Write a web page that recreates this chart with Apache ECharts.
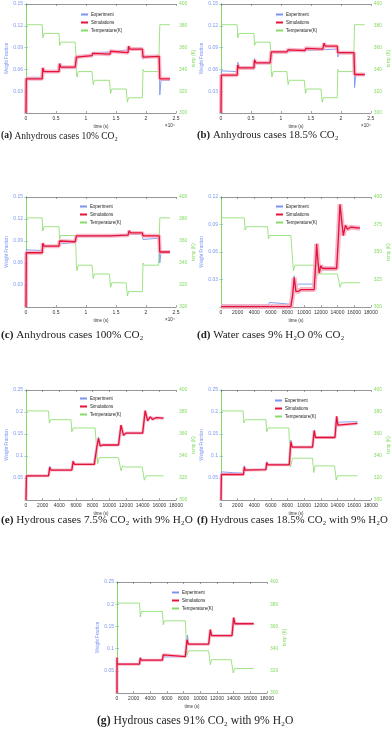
<!DOCTYPE html>
<html>
<head>
<meta charset="utf-8">
<script src="https://cdn.jsdelivr.net/npm/echarts@6/dist/echarts.min.js"></script>
<style>html,body{margin:0;padding:0;background:#fff}#chart{width:392px;height:731px}</style>
</head>
<body>
<div id="chart"></div>
<script>
// time in 1e4 s for the anhydrous panels, in s for the others
const anhydrousTemp = [[0,381],[0.27,381],[0.28,369],[0.3,373],[0.55,373],[0.56,362],[0.58,365],[0.82,365],[0.83,355],[0.84,338],[0.85,333],[0.87,338],[1.1,338],[1.12,326],[1.14,330],[1.39,330],[1.41,318],[1.43,322],[1.67,322],[1.69,310],[1.71,314],[1.94,314],[1.95,340],[1.97,338],[2.21,338],[2.23,381],[2.4,381]]

const simA = [[0,0],[0.005,0.047],[0.27,0.047],[0.28,0.062],[0.3,0.057],[0.55,0.057],[0.56,0.068],[0.58,0.063],[0.82,0.063],[0.84,0.077],[0.86,0.079],[1.1,0.079],[1.11,0.082],[1.13,0.081],[1.4,0.081],[1.41,0.085],[1.43,0.083],[1.7,0.083],[1.71,0.092],[1.73,0.088],[1.94,0.088],[1.95,0.077],[1.97,0.078],[2.22,0.078],[2.23,0.047],[2.4,0.047]]
const expA = [[0,0],[0.005,0.049],[0.27,0.049],[0.28,0.061],[0.3,0.057],[0.55,0.057],[0.56,0.067],[0.58,0.062],[0.82,0.062],[0.85,0.075],[0.9,0.078],[1.1,0.079],[1.12,0.083],[1.4,0.084],[1.42,0.086],[1.7,0.087],[1.72,0.088],[1.94,0.088],[1.95,0.074],[1.97,0.078],[2.22,0.078],[2.23,0.025],[2.25,0.045],[2.4,0.045]]

const simB = [[0,0],[0.005,0.052],[0.27,0.052],[0.28,0.066],[0.3,0.062],[0.55,0.062],[0.56,0.073],[0.58,0.069],[0.82,0.069],[0.84,0.084],[1.1,0.084],[1.12,0.087],[1.14,0.086],[1.4,0.086],[1.42,0.089],[1.44,0.088],[1.7,0.088],[1.72,0.096],[1.74,0.092],[1.94,0.092],[1.95,0.083],[2.22,0.083],[2.23,0.053],[2.4,0.053]]
const expB = [[0,0],[0.005,0.058],[0.27,0.057],[0.28,0.07],[0.3,0.063],[0.55,0.063],[0.56,0.075],[0.58,0.069],[0.82,0.069],[0.84,0.083],[1.1,0.084],[1.12,0.086],[1.4,0.086],[1.42,0.087],[1.7,0.087],[1.72,0.088],[1.94,0.088],[1.95,0.077],[1.97,0.082],[2.22,0.082],[2.23,0.035],[2.25,0.052],[2.4,0.052]]

const simC = [[0,0],[0.005,0.074],[0.27,0.074],[0.28,0.087],[0.3,0.083],[0.55,0.083],[0.56,0.09],[0.58,0.089],[0.82,0.089],[0.84,0.097],[1.4,0.097],[1.42,0.099],[1.7,0.098],[1.72,0.104],[1.74,0.101],[1.94,0.101],[1.95,0.097],[2.22,0.097],[2.23,0.075],[2.4,0.075]]
const expC = [[0,0],[0.005,0.078],[0.27,0.077],[0.28,0.086],[0.3,0.083],[0.55,0.083],[0.56,0.086],[0.58,0.088],[0.82,0.088],[0.84,0.096],[1.4,0.097],[1.42,0.099],[1.7,0.099],[1.72,0.1],[1.94,0.099],[1.95,0.092],[1.97,0.094],[2.22,0.094],[2.23,0.06],[2.25,0.074],[2.4,0.074]]

const tempD = [[0,381],[2800,381],[2900,370],[3050,373],[5600,373],[5700,362],[5850,365],[8400,365],[8700,333],[8900,338],[11200,338],[11400,326],[11550,330],[14000,330],[14300,318],[14500,322],[16700,322]]
const simD = [[0,0.0005],[8400,0.0005],[8600,0.012],[8800,0.032],[9000,0.017],[9300,0.017],[9600,0.019],[11200,0.019],[11400,0.05],[11500,0.069],[11650,0.05],[11800,0.037],[12000,0.045],[12200,0.042],[13900,0.042],[14100,0.075],[14300,0.112],[14500,0.095],[14700,0.078],[14950,0.089],[15200,0.085],[15600,0.087],[16700,0.086]]
const expD = [[0,0.003],[500,0.002],[2900,0.002],[3000,0.003],[3100,0.002],[5700,0.002],[5800,0.005],[6000,0.003],[8400,0.003],[8600,0.015],[8800,0.034],[9000,0.022],[9300,0.025],[11200,0.025],[11300,0.04],[11450,0.062],[11650,0.045],[11850,0.039],[12000,0.043],[13900,0.043],[14100,0.07],[14300,0.1],[14500,0.09],[14700,0.08],[14950,0.088],[16700,0.087]]

const tempE = [[0,381],[2700,381],[2800,370],[2950,373],[5400,373],[5500,362],[5650,365.5],[8300,365.5],[8600,333],[8800,338.5],[11100,338.5],[11400,326.5],[11600,331],[11900,330],[13950,330],[14200,318],[14400,322],[16500,322]]
const simE = [[0,0],[50,0.055],[2700,0.055],[2850,0.074],[3000,0.068],[5500,0.068],[5650,0.088],[5800,0.081],[8200,0.081],[8500,0.12],[8700,0.14],[8900,0.123],[9200,0.125],[11100,0.125],[11400,0.17],[11700,0.147],[12000,0.152],[14000,0.152],[14300,0.203],[14600,0.18],[14900,0.189],[15200,0.183],[15600,0.187],[16500,0.186]]
const expE = [[0,0],[50,0.053],[2700,0.055],[2850,0.077],[3000,0.068],[5500,0.069],[5650,0.089],[5800,0.081],[8100,0.081],[8400,0.115],[8700,0.143],[8900,0.124],[11100,0.125],[11400,0.168],[11700,0.149],[12000,0.153],[14000,0.153],[14300,0.2],[14600,0.182],[14900,0.188],[16500,0.187]]

const tempF = [[0,381],[2650,381],[2750,370],[2900,373],[5400,373],[5500,362],[5650,365.5],[8150,365.5],[8350,330],[8600,338],[11000,338],[11150,325],[11300,331],[13650,331],[13850,318],[14000,322],[16400,322]]
const simF = [[0,0],[50,0.058],[2700,0.058],[2800,0.075],[2900,0.068],[5400,0.069],[5500,0.085],[5600,0.08],[8200,0.08],[8400,0.132],[8550,0.12],[11000,0.12],[11200,0.158],[11350,0.142],[13700,0.142],[13900,0.19],[14050,0.17],[14200,0.174],[16400,0.174]]
const expF = [[0,0],[30,0.064],[1500,0.062],[2700,0.061],[2800,0.078],[2900,0.069],[5400,0.07],[5500,0.087],[5600,0.081],[8200,0.081],[8400,0.136],[8550,0.121],[11000,0.121],[11200,0.156],[11350,0.143],[13700,0.143],[13900,0.188],[14050,0.172],[14200,0.177],[16400,0.178]]

const tempG = [[0,381],[2700,381],[2800,368.5],[2950,373.5],[5450,373.5],[5550,361.5],[5700,365],[8200,365],[8400,334],[8600,338],[11000,338],[11200,325.5],[11350,330],[13700,330],[13950,318],[14100,322],[16400,322]]
const simG = [[0,0],[0,0.08],[30,0.065],[2700,0.065],[2800,0.079],[2900,0.074],[5450,0.074],[5550,0.086],[5700,0.082],[8200,0.082],[8400,0.12],[8550,0.11],[11000,0.11],[11200,0.143],[11350,0.129],[13800,0.129],[14000,0.17],[14150,0.156],[16400,0.156]]
const expG = [[0,0],[30,0.066],[2700,0.066],[2800,0.08],[2900,0.074],[5450,0.075],[5550,0.087],[5700,0.081],[8200,0.082],[8450,0.13],[8600,0.11],[11000,0.11],[11200,0.14],[11350,0.13],[13800,0.13],[14000,0.168],[14150,0.157],[16400,0.157]]

const captions = [
    '{b|(a)} Anhydrous cases 10% CO₂',
    '{b|(b)} Anhydrous cases 18.5% CO₂',
    '{b|(c)} Anhydrous cases 100% CO₂',
    '{b|(d)} Water cases 9% H₂O 0% CO₂',
    '{b|(e)} Hydrous cases 7.5% CO₂ with 9% H₂O',
    '{b|(f)} Hydrous cases 18.5% CO₂ with 9% H₂O',
    '{b|(g)} Hydrous cases 91% CO₂ with 9% H₂O'
]

const BLUE = '#7b95f2'
const RED = '#e5123a'
const PINK = '#f6a9bd'
const GREEN = '#86dc66'
const FONT = 'Liberation Sans'

const legendItems = [
    { name: 'Experiment', itemStyle: { color: BLUE, borderWidth: 0 } },
    { name: 'Simulations', itemStyle: { color: RED, borderWidth: 0 } },
    { name: 'Temperature(K)', itemStyle: { color: GREEN, borderWidth: 0 } }
]

const panels = [
    { box: [26, 4, 150, 109], xMax: 2.5, xStep: 0.5, yMax: 0.15, yStep: 0.03, tStep: 20, exp: expA, sim: simA, temp: anhydrousTemp, leg: [81, 12], cap: [1, 131, 9.5], sci: true, band: 4 },
    { box: [221, 4, 151, 109], xMax: 2.5, xStep: 0.5, yMax: 0.15, yStep: 0.03, tStep: 20, exp: expB, sim: simB, temp: anhydrousTemp, leg: [276, 12], cap: [197, 130, 10.8], sci: true, band: 4 },
    { box: [26, 197, 150, 110], xMax: 2.5, xStep: 0.5, yMax: 0.15, yStep: 0.03, tStep: 20, exp: expC, sim: simC, temp: anhydrousTemp, leg: [80, 204], cap: [1, 330, 11.2], sci: true, band: 4 },
    { box: [221, 197, 151, 110], xMax: 18000, xStep: 2000, yMax: 0.12, yStep: 0.03, tStep: 25, exp: expD, sim: simD, temp: tempD, leg: [276, 204], cap: [197, 330, 11], band: 5 },
    { box: [26, 390, 150, 110], xMax: 18000, xStep: 2000, yMax: 0.25, yStep: 0.05, tStep: 20, exp: expE, sim: simE, temp: tempE, leg: [80, 396], cap: [1, 515, 11.2], band: 3 },
    { box: [221, 390, 151, 110], xMax: 18000, xStep: 2000, yMax: 0.25, yStep: 0.05, tStep: 20, exp: expF, sim: simF, temp: tempF, leg: [275, 398], cap: [197, 515, 10.9], band: 3 },
    { box: [117, 582, 150, 111], xMax: 18000, xStep: 2000, yMax: 0.25, yStep: 0.05, tStep: 20, exp: expG, sim: simG, temp: tempG, leg: [172, 590], cap: [97, 715, 11.6], band: 3 }
]

const grid = [], xAxis = [], yAxis = [], series = [], legend = [], title = [], graphic = []

const frame = { lineStyle: { color: '#6a6a6a', width: 0.7 } }
const tick = { inside: true, length: 2, lineStyle: { color: '#6a6a6a', width: 0.6 } }

panels.forEach((p, i) => {
    grid.push({ left: p.box[0], top: p.box[1], width: p.box[2], height: p.box[3] })

    xAxis.push({
        gridIndex: i, type: 'value', min: 0, max: p.xMax, interval: p.xStep, position: 'bottom',
        axisLine: frame, axisTick: tick, splitLine: { show: false },
        axisLabel: { fontSize: 5, color: '#333', margin: 3, fontFamily: FONT, formatter: v => String(+v.toFixed(2)) },
        name: 'time (s)', nameLocation: 'middle', nameGap: 11,
        nameTextStyle: { fontSize: 4.5, color: '#333', fontFamily: FONT }
    })
    xAxis.push({
        gridIndex: i, type: 'value', min: 0, max: p.xMax, interval: p.xStep, position: 'top',
        axisLine: frame, axisTick: tick, axisLabel: { show: false }, splitLine: { show: false }
    })
    yAxis.push({
        gridIndex: i, type: 'value', min: 0, max: p.yMax, interval: p.yStep, position: 'left',
        axisLine: { lineStyle: { color: BLUE, width: 1 } },
        axisTick: { inside: true, length: 2, lineStyle: { color: BLUE, width: 0.6 } },
        splitLine: { show: false },
        axisLabel: { fontSize: 5, color: BLUE, margin: 3, fontFamily: FONT, formatter: v => v === 0 ? '' : String(+v.toFixed(2)) },
        name: 'Weight Fraction', nameLocation: 'middle', nameGap: 13,
        nameTextStyle: { fontSize: 4.5, color: BLUE, fontFamily: FONT }
    })
    yAxis.push({
        gridIndex: i, type: 'value', min: 300, max: 400, interval: p.tStep, position: 'right',
        axisLine: { lineStyle: { color: GREEN, width: 1 } },
        axisTick: { inside: true, length: 2, lineStyle: { color: GREEN, width: 0.6 } },
        splitLine: { show: false },
        axisLabel: { fontSize: 5, color: GREEN, margin: 3, fontFamily: FONT },
        name: 'temp (K)', nameLocation: 'middle', nameGap: 13,
        nameTextStyle: { fontSize: 4.5, color: GREEN, fontFamily: FONT }
    })

    const common = { type: 'line', showSymbol: false, symbol: 'none', animation: false, xAxisIndex: 2 * i }
    series.push({ ...common, name: 'Temperature(K)', yAxisIndex: 2 * i + 1, data: p.temp, z: 1,
        lineStyle: { color: GREEN, width: 0.8 }, itemStyle: { color: GREEN } })
    series.push({ ...common, name: 'Experiment', yAxisIndex: 2 * i, data: p.exp, z: 2,
        lineStyle: { color: BLUE, width: 0.9 }, itemStyle: { color: BLUE } })
    series.push({ ...common, yAxisIndex: 2 * i, data: p.sim, z: 3,
        lineStyle: { color: PINK, width: p.band, opacity: 0.8 } })
    series.push({ ...common, name: 'Simulations', yAxisIndex: 2 * i, data: p.sim, z: 4,
        lineStyle: { color: RED, width: 1.3 }, itemStyle: { color: RED } })

    legend.push({
        data: legendItems, orient: 'vertical', left: p.leg[0], top: p.leg[1], padding: 0,
        icon: 'rect', itemWidth: 7, itemHeight: 2, itemGap: 3, selectedMode: false,
        itemStyle: { borderWidth: 0 }, lineStyle: { width: 0 },
        textStyle: { fontSize: 4.5, lineHeight: 5, color: '#222', fontFamily: FONT, padding: [0, 0, 0, -2] }
    })

    title.push({
        text: captions[i], left: p.cap[0], top: p.cap[1], padding: 0,
        textStyle: {
            fontFamily: 'Liberation Serif', fontSize: p.cap[2], fontWeight: 'normal', color: '#222',
            rich: { b: { fontFamily: 'Liberation Serif', fontSize: p.cap[2], fontWeight: 'bold', color: '#222' } }
        }
    })

    if (p.sci) {
        graphic.push({
            type: 'text', left: p.box[0] + p.box[2] - 11, top: p.box[1] + p.box[3] + 10,
            style: { text: '×10⁴', fontSize: 4.5, fill: '#333', fontFamily: FONT }
        })
    }
})

const chart = echarts.init(document.getElementById('chart'))
chart.setOption({ animation: false, grid, xAxis, yAxis, series, legend, title, graphic })
</script>
</body>
</html>
